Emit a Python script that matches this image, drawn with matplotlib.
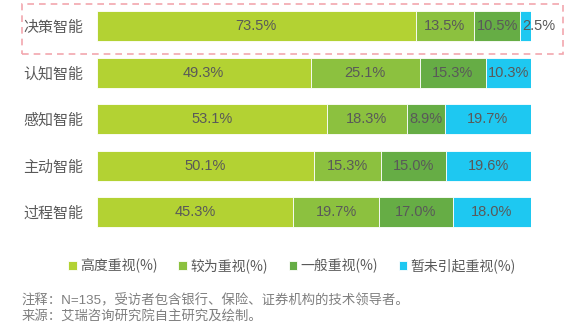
import matplotlib
matplotlib.use("Agg")
import matplotlib.pyplot as plt
from matplotlib.patches import Rectangle

categories = ["决策智能", "认知智能", "感知智能", "主动智能", "过程智能"]
series_names = ["高度重视(%)", "较为重视(%)", "一般重视(%)", "暂未引起重视(%)"]
high = [73.5, 49.3, 53.1, 50.1, 45.3]
fairly = [13.5, 25.1, 18.3, 15.3, 19.7]
general = [10.5, 15.3, 8.9, 15.0, 17.0]
not_yet = [2.5, 10.3, 19.7, 19.6, 18.0]
series = [high, fairly, general, not_yet]
colors = ["#B3D233", "#8CC13F", "#66AD45", "#1EC8F1"]

note1 = "注释：N=135，受访者包含银行、保险、证券机构的技术领导者。"
note2 = "来源：艾瑞咨询研究院自主研究及绘制。"

W, H = 578, 328
fig = plt.figure(figsize=(W / 100, H / 100), dpi=100)
ax = fig.add_axes([96.7 / W, 1 - 235.55 / H, 434 / W, 232.5 / H])

text_color = "#595959"
ypos = list(range(len(categories)))
left = [0.0] * len(categories)
handles = []
for vals, col, name in zip(series, colors, series_names):
    b = ax.barh(ypos, vals, left=left, height=0.645, color=col,
                edgecolor="white", linewidth=0.6, label=name)
    handles.append(b)
    for i, (v, l) in enumerate(zip(vals, left)):
        if v < 5:
            ax.text(l + 0.5, i, f"{v:.1f}%", ha="left", va="center",
                    fontsize=10.5, color=text_color, family=["Liberation Sans"])
        else:
            ax.text(l + v / 2, i, f"{v:.1f}%", ha="center", va="center",
                    fontsize=10.5, color=text_color, family=["Liberation Sans"])
    left = [a + b_ for a, b_ in zip(left, vals)]

ax.set_xlim(0, 100)
ax.set_ylim(len(categories) - 0.5, -0.5)
ax.set_yticks(ypos)
ax.set_yticklabels(categories, fontsize=10.8, color=text_color,
                   family=["Noto Sans CJK SC"])
ax.tick_params(axis="y", length=0, pad=9.5)
ax.set_xticks([])
for s in ax.spines.values():
    s.set_visible(False)

leg = fig.legend(handles=handles, labels=series_names, loc="center",
                 bbox_to_anchor=(292 / W, 1 - 266 / H), ncol=4, frameon=False,
                 handlelength=0.6, handleheight=0.6, handletextpad=0.25,
                 columnspacing=1.5, borderaxespad=0,
                 prop={"family": ["Noto Sans CJK SC", "DejaVu Sans"], "size": 10})
for t in leg.get_texts():
    t.set_color(text_color)

fam = ["Liberation Sans", "Noto Sans CJK SC"]
fig.text(21.7 / W, 1 - 301 / H, note1, fontsize=9.6, color="#7F7F7F",
         family=fam, va="center", ha="left")
fig.text(21.7 / W, 1 - 316.7 / H, note2, fontsize=9.6, color="#7F7F7F",
         family=fam, va="center", ha="left")

rect = Rectangle((21.5 / W, 1 - 54 / H), (563 - 21.5) / W, (54 - 4.4) / H,
                 transform=fig.transFigure, fill=False, edgecolor="#F2A7AE",
                 linestyle=(0, (4, 3)), linewidth=1.2)
fig.patches.append(rect)

fig.savefig("out.png", dpi=100)
